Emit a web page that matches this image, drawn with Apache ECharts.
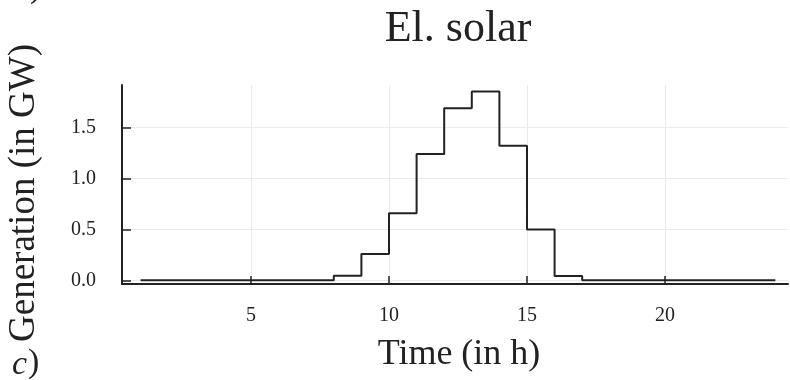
<!DOCTYPE html>
<html>
<head>
<meta charset="utf-8">
<title>El. solar</title>
<script src="https://cdn.jsdelivr.net/npm/echarts@6/dist/echarts.min.js"></script>
<style>
  html, body { margin: 0; padding: 0; background: #ffffff; }
  #chart { width: 790px; height: 380px; }
</style>
</head>
<body>
<div id="chart"></div>
<script>
// Hourly electricity generation from solar, in GW
const hours = [1, 2, 3, 4, 5, 6, 7, 8, 9, 10, 11, 12, 13, 14, 15, 16, 17, 18, 19, 20, 21, 22, 23, 24];
const solarGW = [0, 0, 0, 0, 0, 0, 0, 0.045, 0.258, 0.658, 1.24, 1.69, 1.853, 1.322, 0.50, 0.042, 0, 0, 0, 0, 0, 0, 0, 0];

// Tick positions
const xTicks = [5, 10, 15, 20];
const yTicks = [0, 0.5, 1.0, 1.5];

const SERIF = '"Liberation Serif", "DejaVu Serif", serif';
const INK = '#222222';

const chart = echarts.init(document.getElementById('chart'), null, { renderer: 'canvas' });

chart.setOption({
  animation: false,
  backgroundColor: '#ffffff',
  title: {
    text: 'El. solar',
    left: 458,
    top: 7,
    padding: 0,
    textAlign: 'center',
    textStyle: { fontFamily: SERIF, fontSize: 44, fontWeight: 'normal', color: INK }
  },
  grid: { left: 122, right: 2, top: 85, bottom: 96, containLabel: false, outerBoundsMode: 'none' },
  xAxis: {
    type: 'value',
    min: 0.326,
    max: 24.457,
    name: 'Time (in h)',
    nameLocation: 'middle',
    nameGap: 53,
    nameTextStyle: { fontFamily: SERIF, fontSize: 36, color: INK, padding: [0, 0, 0, 8] },
    axisLine: { onZero: false, lineStyle: { color: INK, width: 2 } },
    axisTick: { inside: true, length: 8, customValues: xTicks, lineStyle: { color: INK, width: 1.5 } },
    axisLabel: { customValues: xTicks, margin: 22, fontFamily: SERIF, fontSize: 20, color: INK },
    splitLine: { show: true, lineStyle: { color: '#ebebeb', width: 1 } }
  },
  yAxis: {
    type: 'value',
    min: -0.036,
    max: 1.917,
    name: 'Generation (in GW)',
    nameLocation: 'middle',
    nameGap: 79,
    nameRotate: 90,
    nameTextStyle: { fontFamily: SERIF, fontSize: 37, color: INK, padding: [0, 17, 0, 0] },
    axisLine: { show: true, lineStyle: { color: INK, width: 2 } },
    axisTick: { show: true, inside: true, length: 9, customValues: yTicks, lineStyle: { color: INK, width: 1.5 } },
    axisLabel: {
      customValues: yTicks,
      margin: 26,
      fontFamily: SERIF,
      fontSize: 20,
      color: INK,
      formatter: v => v.toFixed(1)
    },
    splitLine: { show: true, lineStyle: { color: '#ebebeb', width: 1 } }
  },
  graphic: [
    {
      type: 'text',
      left: 12,
      top: 348,
      style: { text: 'c', fontFamily: SERIF, fontStyle: 'italic', fontSize: 34, fill: INK }
    },
    {
      type: 'text',
      left: 28,
      top: 346,
      style: { text: ')', fontFamily: SERIF, fontSize: 34, fill: INK }
    },
    {
      type: 'text',
      left: 30,
      top: -29,
      style: { text: ')', fontFamily: SERIF, fontSize: 34, fill: INK }
    }
  ],
  series: [
    {
      type: 'line',
      step: 'end',
      showSymbol: false,
      data: hours.map((h, i) => [h, solarGW[i]]),
      lineStyle: { color: INK, width: 2 },
      silent: true
    }
  ]
});
</script>
</body>
</html>
